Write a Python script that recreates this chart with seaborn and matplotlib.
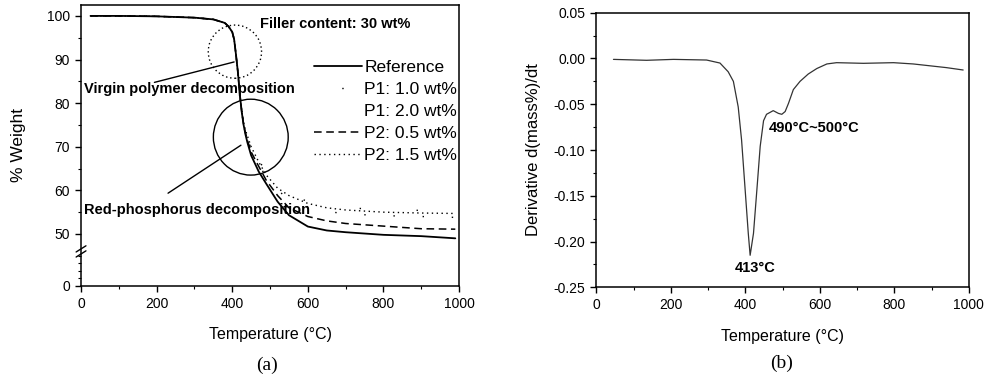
import numpy as np
import pandas as pd
import matplotlib
matplotlib.use("Agg")
import matplotlib.pyplot as plt
import seaborn as sns
from matplotlib.patches import Ellipse
from matplotlib.ticker import FixedLocator, MultipleLocator

# %% Data
# (a) TGA curves, % weight vs temperature
temp_a = [25, 100, 200, 300, 350, 380, 390, 400, 405, 410, 415, 420, 425, 430, 435,
          440, 450, 470, 490, 520, 550, 600, 650, 700, 800, 900, 990]
w_ref = [100.0, 100.0, 99.9, 99.6, 99.2, 98.4, 97.6, 96.3, 94.6, 91.0, 87.0, 82.0,
         78.0, 75.0, 72.8, 71.0, 68.0, 64.3, 61.5, 57.4, 54.3, 51.7, 50.8, 50.4,
         49.8, 49.5, 49.0]
w_p1_10 = [100.0, 100.0, 99.9, 99.6, 99.2, 98.4, 97.6, 96.3, 94.6, 91.0, 87.0, 82.0,
           78.2, 75.3, 73.4, 72.0, 69.5, 66.0, 63.0, 60.0, 58.0, 56.2, 55.2, 54.6,
           54.2, 54.0, 53.8]
w_p1_20 = [100.0, 100.0, 99.9, 99.6, 99.2, 98.4, 97.6, 96.3, 94.6, 91.0, 87.0, 82.0,
           78.4, 75.6, 74.0, 72.8, 70.3, 67.0, 64.0, 61.2, 59.3, 57.4, 56.5, 56.0,
           55.6, 55.4, 55.3]
w_p2_05 = [100.0, 100.0, 99.9, 99.6, 99.2, 98.4, 97.6, 96.3, 94.6, 91.0, 87.0, 82.0,
           78.1, 75.1, 73.1, 71.5, 68.8, 65.5, 62.3, 58.8, 56.0, 54.0, 53.0, 52.4,
           51.8, 51.2, 51.1]
w_p2_15 = [100.0, 100.0, 99.9, 99.6, 99.2, 98.4, 97.6, 96.3, 94.6, 91.0, 87.0, 82.0,
           78.3, 75.5, 73.8, 72.5, 70.0, 66.5, 63.5, 60.5, 58.8, 57.0, 56.0, 55.5,
           55.0, 54.8, 54.7]
labels_a = ["Reference", "P1: 1.0 wt%", "P1: 2.0 wt%", "P2: 0.5 wt%", "P2: 1.5 wt%"]

# (b) DTG curve
temp_b = [46, 135, 207, 296, 332, 354, 368, 381, 390, 399, 408, 413, 422, 431, 440,
          449, 457, 466, 475, 489, 498, 507, 516, 529, 547, 569, 592, 619, 645,
          717, 798, 851, 940, 985]
dtg_b = [-0.001, -0.002, -0.001, -0.0017, -0.005, -0.0145, -0.025, -0.053, -0.089,
         -0.140, -0.191, -0.215, -0.191, -0.144, -0.096, -0.068, -0.061, -0.059,
         -0.057, -0.060, -0.061, -0.058, -0.049, -0.034, -0.025, -0.017, -0.011,
         -0.006, -0.0046, -0.0053, -0.0046, -0.006, -0.010, -0.0126]

df_a = pd.DataFrame({"T": temp_a, labels_a[0]: w_ref, labels_a[1]: w_p1_10,
                     labels_a[2]: w_p1_20, labels_a[3]: w_p2_05, labels_a[4]: w_p2_15})
df_b = pd.DataFrame({"T": temp_b, "dtg": dtg_b})

# %% Style
sns.set_style("ticks")
plt.rcParams["font.family"] = ["Liberation Sans", "DejaVu Sans"]
plt.rcParams["text.color"] = "black"
plt.rcParams["axes.labelcolor"] = "black"
plt.rcParams["xtick.color"] = "black"
plt.rcParams["ytick.color"] = "black"
plt.rcParams["xtick.direction"] = "out"
plt.rcParams["ytick.direction"] = "out"

fig = plt.figure(figsize=(9.86, 3.79), dpi=100)
ax1 = fig.add_axes([0.0822, 0.2462, 0.3834, 0.7406])
ax2 = fig.add_axes([0.6048, 0.2419, 0.3777, 0.7246])

#------------------------------------------------------------------------------
# ax1 : broken y axis (0..46 squeezed)
#------------------------------------------------------------------------------
brk, y0map = 46.0, 38.14
k = (brk - y0map) / brk

def fwd(y):
    y = np.asarray(y, dtype=float)
    return np.where(y >= brk, y, y0map + y * k)

def inv(u):
    u = np.asarray(u, dtype=float)
    return np.where(u >= brk, u, (u - y0map) / k)

ax1.set_yscale("function", functions=(fwd, inv))

styles = ["-", (1, (1, 20)), (1, (1, 40)), (0, (5, 3)), (0, (1, 2.5))]
widths = [1.3, 1.0, 1.0, 1.1, 1.0]
for lab, ls, lw in zip(labels_a, styles, widths):
    sns.lineplot(data=df_a, x="T", y=lab, ax=ax1, color="black", linestyle=ls,
                 linewidth=lw, label=lab, legend=False)

ax1.set_xlim(0, 1000)
ax1.set_ylim(0, 102.5)
ax1.yaxis.set_major_locator(FixedLocator([0, 50, 60, 70, 80, 90, 100]))
ax1.yaxis.set_minor_locator(FixedLocator([10, 20, 30, 40, 55, 65, 75, 85, 95]))
ax1.xaxis.set_major_locator(MultipleLocator(200))
ax1.xaxis.set_minor_locator(MultipleLocator(100))
ax1.yaxis.set_major_formatter(plt.FuncFormatter(lambda v, _: f"{v:.0f}"))
ax1.yaxis.set_minor_formatter(plt.NullFormatter())

ax1.set_xlabel("Temperature (°C)", fontsize=11.5, labelpad=12)
ax1.set_ylabel("% Weight", fontsize=12.5, labelpad=15)

# break marks on the left spine
yb = (brk - y0map) / (102.5 - y0map)
for dy in (-0.009, 0.009):
    ax1.plot([-0.013, 0.013], [yb + dy - 0.011, yb + dy + 0.011], color="black",
             lw=1.0, transform=ax1.transAxes, clip_on=False)

# circles + annotations
ax1.add_patch(Ellipse((407, 91.8), 141, 12.2, fill=False, ls=(0, (1, 2)), lw=1.0, color="black"))
ax1.add_patch(Ellipse((449, 72.2), 198, 17.4, fill=False, lw=1.0, color="black"))
ax1.annotate("", xy=(412, 89.6), xytext=(187, 84.6),
             arrowprops=dict(arrowstyle="-", lw=1.0, color="black"))
ax1.annotate("", xy=(429, 70.7), xytext=(224, 59.0),
             arrowprops=dict(arrowstyle="-", lw=1.0, color="black"))
ax1.text(474, 98.1, "Filler content: 30 wt%", fontsize=10.5, fontweight="bold", va="center")
ax1.text(9, 83.3, "Virgin polymer decomposition", fontsize=10.5, fontweight="bold", va="center")
ax1.text(9, 55.4, "Red-phosphorus decomposition", fontsize=10.5, fontweight="bold", va="center")

ax1.legend(loc="upper right", bbox_to_anchor=(0.995, 0.805), frameon=False,
           fontsize=12.5, handlelength=2.75, handletextpad=0.15, labelspacing=0.4,
           borderpad=0, borderaxespad=0)

#------------------------------------------------------------------------------
# ax2 : derivative curve
#------------------------------------------------------------------------------
sns.lineplot(data=df_b, x="T", y="dtg", ax=ax2, color="#333333", linewidth=0.9)
ax2.set_xlim(0, 1000)
ax2.set_ylim(-0.25, 0.05)
ax2.xaxis.set_major_locator(MultipleLocator(200))
ax2.xaxis.set_minor_locator(MultipleLocator(100))
ax2.yaxis.set_major_locator(MultipleLocator(0.05))
ax2.yaxis.set_minor_locator(MultipleLocator(0.025))
ax2.yaxis.set_major_formatter(plt.FuncFormatter(lambda v, _: f"{v:.2f}".replace("-0.00", "0.00")))
ax2.set_xlabel("Temperature (°C)", fontsize=11.5, labelpad=12)
ax2.set_ylabel("Derivative d(mass%)/dt", fontsize=12, labelpad=9)
ax2.text(426, -0.229, "413°C", fontsize=10.5, fontweight="bold", ha="center", va="center")
ax2.text(463, -0.076, "490°C~500°C", fontsize=10.5, fontweight="bold", va="center")

for ax in (ax1, ax2):
    ax.tick_params(which="major", length=4, width=1, labelsize=10, pad=4)
    ax.tick_params(which="minor", length=2.5, width=0.8)
    for spine in ax.spines.values():
        spine.set_visible(True)
        spine.set_color("black")
        spine.set_linewidth(1.1)
    ax.grid(False)

fig.text(0.2705, 0.037, "(a)", fontsize=14, family="Liberation Serif", ha="center", va="center")
fig.text(0.7928, 0.040, "(b)", fontsize=14, family="Liberation Serif", ha="center", va="center")

fig.savefig("out.png", dpi=100)
plt.close(fig)
